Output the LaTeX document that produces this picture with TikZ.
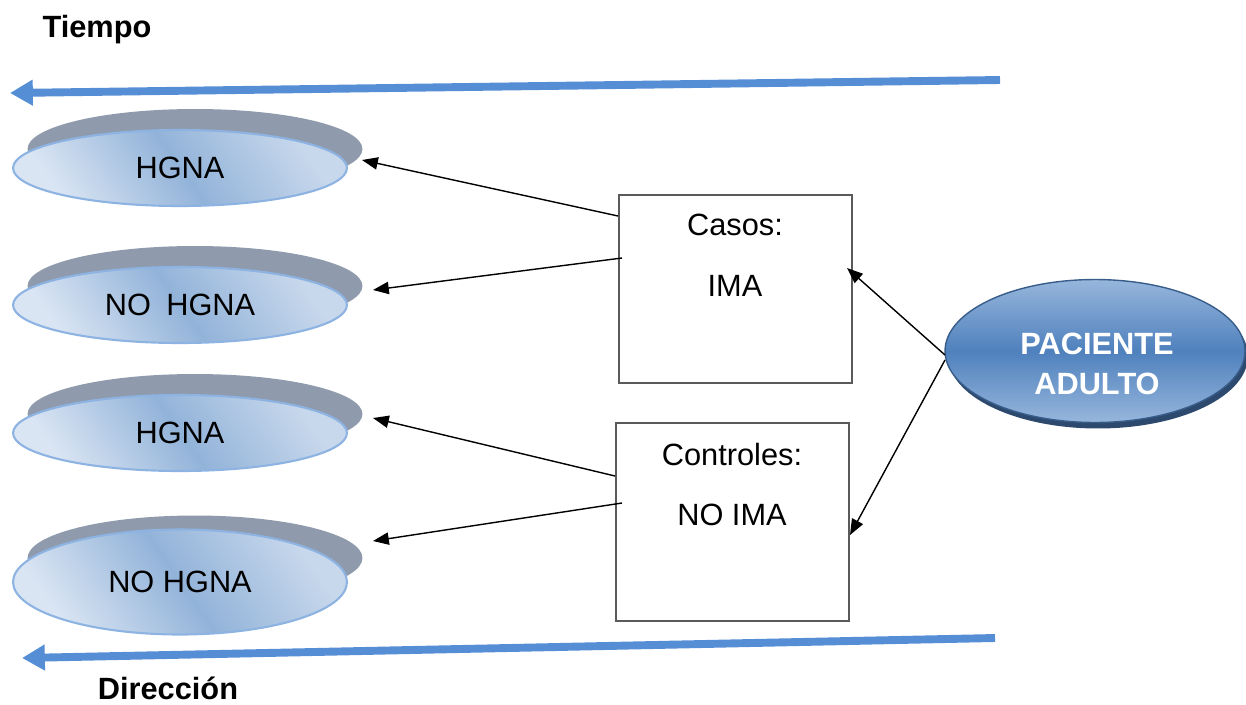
\documentclass[tikz,border=0pt]{standalone}
\usepackage{fontspec}
\setmainfont{Liberation Sans}
\usetikzlibrary{shapes.geometric,arrows.meta,calc}
\definecolor{timeblue}{RGB}{85,142,213}
\definecolor{shadowgray}{RGB}{143,155,173}
\definecolor{ellight}{RGB}{218,229,243}
\definecolor{elright}{RGB}{200,216,236}
\definecolor{elmid}{RGB}{146,179,217}
\definecolor{elborder}{RGB}{141,179,226}
\definecolor{padark}{RGB}{79,129,189}
\definecolor{palight}{RGB}{150,182,220}
\definecolor{paborder}{RGB}{56,93,138}
\definecolor{boxline}{RGB}{90,90,90}
\begin{document}
\begin{tikzpicture}[x=0.02cm,y=-0.02cm,
  every node/.style={font=\fontsize{17.5}{21}\selectfont},
  front/.style={ellipse, draw=elborder, line width=1.2pt, inner sep=0pt,
    minimum width=6.68cm, minimum height=1.52cm,
    left color=ellight, right color=elright, middle color=elmid, shading angle=125},
  back/.style={ellipse, fill=shadowgray, inner sep=0pt, minimum width=6.7cm, minimum height=1.6cm},
  casebox/.style={draw=boxline, line width=1.1pt, anchor=north west, inner sep=0pt, minimum width=4.66cm},
  arr/.style={-{Triangle[length=9pt,width=7pt]}, line width=0.8pt},
  timearr/.style={draw=timeblue, line width=4.5pt, -{Triangle[length=13pt,width=14pt]}},
  lbl/.style={font=\fontsize{17.5}{21}\selectfont\bfseries}]
\useasboundingbox (0,0) rectangle (1246,704);

% time arrows
\coordinate (t1s) at (1000,80);
\coordinate (t1e) at (10,93);
\coordinate (t2s) at (995,638);
\coordinate (t2e) at (22,658);
\draw[timearr] (t1s) -- (t1e);
\draw[timearr] (t2s) -- (t2e);
\node[lbl] (tiempo) at (97,30) {Tiempo};
\node[lbl] (direccion) at (168,688) {Dirección};

% ellipses
\node[back] (b1) at (195,149) {};
\node[front] (e1) at (180,168) {HGNA};
\node[back] (b2) at (195,286) {};
\node[front] (e2) at (180,305) {NO\enspace HGNA};
\node[back] (b3) at (195,414) {};
\node[front] (e3) at (180,433) {HGNA};
\node[back, minimum height=1.7cm] (b4) at (195,558) {};
\node[front, minimum height=2.1cm] (e4) at (180,582) {NO HGNA};

% boxes
\node[casebox, minimum height=3.76cm] (casos) at (618,194) {};
\node (casosT) at (735,225) {Casos:};
\node (casosB) at (735,286) {IMA};
\node[casebox, minimum height=3.96cm] (ctrl) at (615,422) {};
\node (ctrlT) at (732,454) {Controles:};
\node (ctrlB) at (732,515) {NO IMA};

% paciente
\node[ellipse, fill=paborder!80!black, inner sep=0pt, minimum width=6cm, minimum height=2.9cm] (pashadow) at (1098,356) {};
\node[ellipse, draw=paborder, line width=0.8pt, inner sep=0pt, minimum width=6cm, minimum height=2.86cm,
  top color=palight, bottom color=palight, middle color=padark] (pac) at (1095,351) {};
\node[align=center, text=white, font=\fontsize{17.5}{22.5}\selectfont\bfseries] (pactext) at (1097,364) {PACIENTE\\ADULTO};

% connectors
\coordinate (c1) at (618,216);
\coordinate (c1e) at (362,160);
\coordinate (c2) at (622,258);
\coordinate (c2e) at (373,290);
\coordinate (c3) at (615,476);
\coordinate (c3e) at (373,418);
\coordinate (c4) at (622,503);
\coordinate (c4e) at (373,541);
\coordinate (p1) at (945,355);
\coordinate (p1e) at (847,268);
\coordinate (p2) at (945,360);
\coordinate (p2e) at (850,535);
\draw[arr] (c1) -- (c1e);
\draw[arr] (c2) -- (c2e);
\draw[arr] (c3) -- (c3e);
\draw[arr] (c4) -- (c4e);
\draw[arr] (p1) -- (p1e);
\draw[arr] (p2) -- (p2e);
\end{tikzpicture}
\end{document}
